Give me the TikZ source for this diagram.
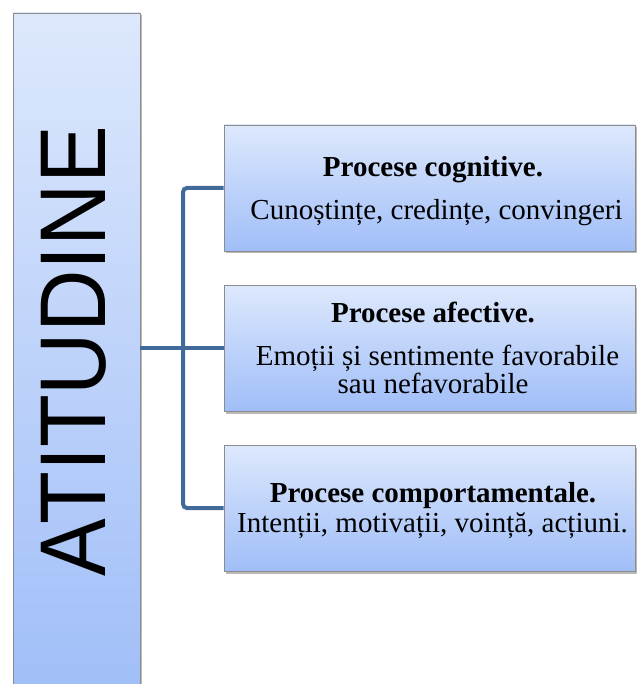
\documentclass[tikz,border=0pt]{standalone}
\usepackage{fontspec}
\setmainfont{Liberation Serif}
\newfontfamily\arialf{Liberation Sans}
\usetikzlibrary{shadows}
\definecolor{boxtop}{HTML}{DDE8FC}
\definecolor{boxbot}{HTML}{A0BEF8}
\definecolor{boxline}{HTML}{8C8C8C}
\definecolor{connc}{HTML}{416A9B}
\tikzset{
  procbox/.style={draw=boxline, line width=0.8pt, top color=boxtop, bottom color=boxbot,
    inner sep=0pt, minimum width=411pt, minimum height=126pt,
    drop shadow={shadow xshift=1.5pt, shadow yshift=-2.5pt, opacity=0.45, fill=black!60}},
  headtxt/.style={font=\fontsize{29}{34}\selectfont\bfseries, anchor=base, inner sep=0pt},
  bodytxt/.style={font=\fontsize{29}{34}\selectfont, anchor=base, inner sep=0pt},
  conn/.style={draw=connc, line width=4pt, rounded corners=4pt}
}
\begin{document}
\begin{tikzpicture}[x=1pt,y=-1pt]
\useasboundingbox (0,0) rectangle (637,684);
% left tall box
\node[draw=boxline, line width=0.8pt, top color=boxtop, bottom color=boxbot,
  inner sep=0pt, minimum width=127pt, minimum height=680pt,
  drop shadow={shadow xshift=1.5pt, shadow yshift=-2.5pt, opacity=0.45, fill=black!60}]
  (lb) at (76.5,353) {};
\node[rotate=90, inner sep=0pt, font=\arialf\fontsize{86.5}{86.5}\selectfont] (title) at (73.5,351) {\scalebox{1}[1.08]{ATITUDINE}};
% right boxes
\node[procbox] (b1) at (429.5,188) {};
\node[procbox] (b2) at (429.5,348) {};
\node[procbox] (b3) at (429.5,508) {};
% texts
\node[headtxt] (t1a) at (433,177) {Procese cognitive.};
\node[bodytxt] (t1b) at (436.5,220) {Cunoștințe, credințe, convingeri};
\node[headtxt] (t2a) at (433,322) {Procese afective.};
\node[bodytxt] (t2b) at (437.5,365) {Emoții și sentimente favorabile};
\node[bodytxt] (t2c) at (433,393) {sau nefavorabile};
\node[headtxt] (t3a) at (433,502) {Procese comportamentale.};
\node[bodytxt] (t3b) at (432.5,532) {Intenții, motivații, voință, acțiuni.};
% connectors
\coordinate (jx) at (183,349);
\draw[conn] (lb.east |- b2.west) -- (b2.west);
\draw[conn] (b1.west) -| (jx) |- (b3.west);
\end{tikzpicture}
\end{document}
